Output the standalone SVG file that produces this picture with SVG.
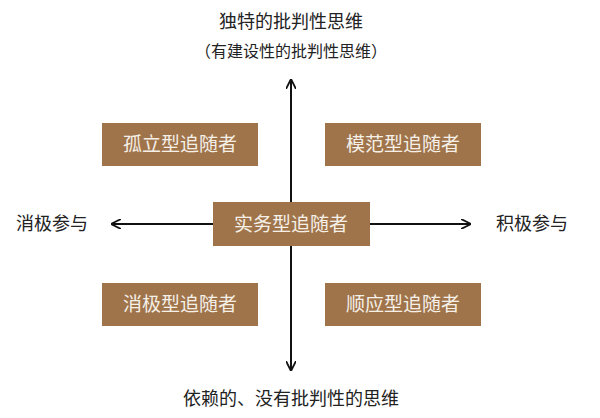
<svg xmlns="http://www.w3.org/2000/svg" width="600" height="418" viewBox="0 0 600 418">
<defs>
<marker id="a" viewBox="0 0 10 10" refX="9" refY="5" markerWidth="10" markerHeight="10" markerUnits="userSpaceOnUse" orient="auto"><path d="M0,0 L10,5 L0,10" fill="none" stroke="#111" stroke-width="1.8"/></marker>
<style>
.b{fill:#a0744a}
.t{font-family:"Noto Sans CJK SC",sans-serif;font-size:19px;fill:#f5f0e8;text-anchor:middle}
.l{font-family:"Noto Sans CJK SC",sans-serif;font-size:18px;fill:#222;text-anchor:middle}
line{stroke:#111;stroke-width:2}
</style>
</defs>
<rect width="600" height="418" fill="#fff"/>
<g id="connectors">
<line x1="291" y1="370" x2="291" y2="80" marker-end="url(#a)"/>
<line x1="291" y1="80" x2="291" y2="370" marker-end="url(#a)"/>
<line x1="291" y1="224" x2="112" y2="224" marker-end="url(#a)"/>
<line x1="291" y1="224" x2="470" y2="224" marker-end="url(#a)"/>
</g>
<g id="n1"><rect class="b" x="102" y="123" width="156" height="43"/><text class="t" x="180" y="151">孤立型追随者</text></g>
<g id="n2"><rect class="b" x="325" y="123" width="156" height="43"/><text class="t" x="403" y="151">模范型追随者</text></g>
<g id="n3"><rect class="b" x="213" y="202" width="157" height="44"/><text class="t" x="291" y="231">实务型追随者</text></g>
<g id="n4"><rect class="b" x="102" y="283" width="156" height="43"/><text class="t" x="180" y="311">消极型追随者</text></g>
<g id="n5"><rect class="b" x="325" y="283" width="156" height="43"/><text class="t" x="403" y="311">顺应型追随者</text></g>
<text class="l" x="291" y="28">独特的批判性思维</text>
<text class="l" x="291" y="57" style="font-size:16px">（有建设性的批判性思维）</text>
<text class="l" x="52" y="230">消极参与</text>
<text class="l" x="532" y="230">积极参与</text>
<text class="l" x="291" y="405">依赖的、没有批判性的思维</text>
</svg>
